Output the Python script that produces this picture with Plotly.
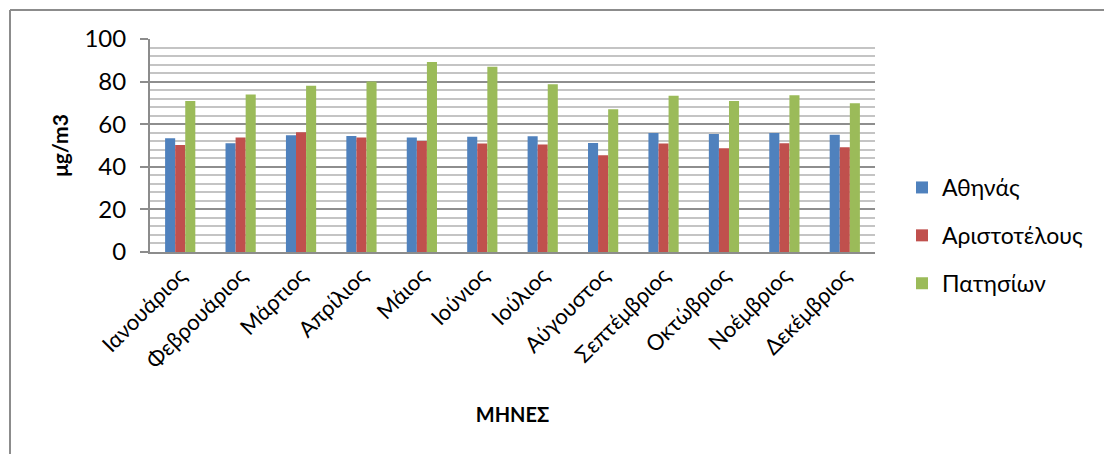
import plotly.graph_objects as go

months = ["Ιανουάριος", "Φεβρουάριος", "Μάρτιος", "Απρίλιος", "Μάιος", "Ιούνιος",
          "Ιούλιος", "Αύγουστος", "Σεπτέμβριος", "Οκτώβριος", "Νοέμβριος", "Δεκέμβριος"]

athinas = [53.4, 51.0, 54.8, 54.5, 53.7, 54.1, 54.3, 51.2, 55.9, 55.4, 55.9, 55.1]
aristotelous = [50.2, 53.8, 56.2, 53.8, 52.1, 50.9, 50.5, 45.4, 50.9, 48.7, 51.0, 49.2]
patision = [70.9, 73.9, 78.1, 80.0, 89.2, 87.0, 78.7, 67.0, 73.4, 70.9, 73.6, 69.8]

series = [
    ("Αθηνάς", athinas, "#4f81bd"),
    ("Αριστοτέλους", aristotelous, "#c0504d"),
    ("Πατησίων", patision, "#9bbb59"),
]

FONT = "Lato, 'Open Sans', sans-serif"

fig = go.Figure()
for name, vals, color in series:
    fig.add_trace(go.Bar(
        x=months, y=vals, name=name, legendgroup=name,
        marker=dict(color=color, line=dict(width=0)),
    ))

W, H = 1104, 454
L, R, T, B = 150, 229, 39, 202
pw, ph = W - L - R, H - T - B

def px_x(p):
    return (p - L) / pw

def px_y(p):
    return (H - B - p) / ph

fig.update_layout(
    width=W, height=H,
    margin=dict(l=L, r=R, t=T, b=B),
    paper_bgcolor="white", plot_bgcolor="white",
    font=dict(family=FONT, color="black", size=20),
    barmode="group", bargap=0.5, bargroupgap=0,
    showlegend=True,
    legend=dict(
        x=px_x(902), y=px_y(166), xanchor="left", yanchor="top",
        font=dict(size=23), tracegroupgap=15, itemwidth=30,
        bgcolor="rgba(0,0,0,0)",
    ),
    xaxis=dict(
        tickangle=-45, tickfont=dict(size=22),
        showline=True, linecolor="#8c8c8c", linewidth=2,
        showgrid=False, ticks="",
        title=dict(text="<b>ΜΗΝΕΣ</b>", font=dict(size=20), standoff=35),
    ),
    yaxis=dict(
        range=[0, 100], dtick=20, tickfont=dict(size=24),
        showline=True, linecolor="#8c8c8c", linewidth=2,
        ticks="outside", ticklen=8, tickcolor="#8c8c8c", tickwidth=2,
        ticklabelstandoff=9,
        showgrid=True, gridcolor="#8e8e8e", gridwidth=2,
        minor=dict(dtick=4, showgrid=True, gridcolor="#c4c4c4", gridwidth=2, ticks=""),
        zeroline=False,
        title=dict(text="<b>μg/m3</b>", font=dict(size=21), standoff=10),
    ),
    shapes=[
        dict(type="line", xref="paper", yref="paper",
             x0=px_x(10), x1=px_x(1110), y0=px_y(10), y1=px_y(10),
             line=dict(color="#8c8c8c", width=2)),
        dict(type="line", xref="paper", yref="paper",
             x0=px_x(10), x1=px_x(10), y0=px_y(10), y1=px_y(460),
             line=dict(color="#8c8c8c", width=2)),
    ],
)

fig.write_html("out.html")
